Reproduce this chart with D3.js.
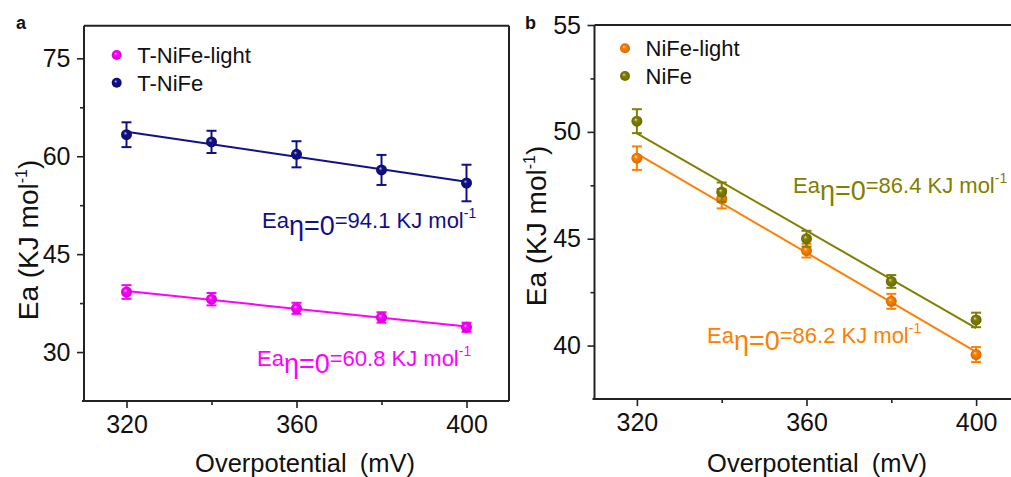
<!DOCTYPE html>
<html>
<head>
<meta charset="utf-8">
<script src="https://cdn.jsdelivr.net/npm/d3@7/dist/d3.min.js"></script>
<style>
  html, body { margin: 0; padding: 0; background: #fff; }
  svg { display: block; font-family: Arial, "Liberation Sans", sans-serif; }
</style>
</head>
<body>
<svg id="chart" width="1011" height="477"></svg>
<script>
// Overpotential (mV) at which activation energies were measured
const overpotential = [320, 340, 360, 380, 400];

// Panel a: T-NiFe samples
const tNiFeLight = [39.2, 38.1, 36.7, 35.3, 33.8];
const tNiFeLightErr = [1.05, 0.95, 0.85, 0.8, 0.7];
const tNiFe = [63.3, 62.2, 60.3, 57.9, 55.9];
const tNiFeErr = [1.9, 1.7, 2.0, 2.3, 2.8];

// Panel b: NiFe samples
const niFeLight = [48.77, 46.87, 44.44, 42.07, 39.58];
const niFeLightErr = [0.55, 0.45, 0.32, 0.35, 0.35];
const niFe = [50.5, 47.18, 45.0, 43.0, 41.2];
const niFeErr = [0.56, 0.45, 0.37, 0.3, 0.34];

// Extrapolated activation energies at zero overpotential (KJ mol-1)
const eaZeroA = ["60.8", "94.1"];
const eaZeroB = ["86.2", "86.4"];

// Axis ticks
const xTicks = [320, 360, 400];
const xMinorTicks = [340, 380];
const yTicksA = [30, 45, 60, 75];
const yMinorA = [37.5, 52.5, 67.5];
const yTicksB = [40, 45, 50, 55];
const yMinorB = [42.5, 47.5, 52.5];

const svg = d3.select("#chart");
const defs = svg.append("defs");

function sphere(id, color) {
  const g = defs.append("radialGradient").attr("id", id)
    .attr("cx", "50%").attr("cy", "50%").attr("r", "55%")
    .attr("fx", "38%").attr("fy", "35%");
  g.append("stop").attr("offset", "0%").attr("stop-color", d3.interpolateRgb(color, "#fff")(0.75));
  g.append("stop").attr("offset", "30%").attr("stop-color", color);
  g.append("stop").attr("offset", "100%").attr("stop-color", d3.color(color).darker(0.6));
  return `url(#${id})`;
}

const colors = {
  tNiFeLight: "#ff00ff",
  tNiFe: "#10108a",
  niFeLight: "#ff8000",
  niFe: "#808000"
};

// Least-squares line through a series
function fit(xs, ys) {
  const mx = d3.mean(xs), my = d3.mean(ys);
  const s = d3.sum(xs, (x, i) => (x - mx) * (ys[i] - my)) / d3.sum(xs, x => (x - mx) ** 2);
  return x => my + s * (x - mx);
}

function panel(opts) {
  const { x, y, yTicks, yMinor, series, label, labelPos, legendPos, yTitleX, yTitleY, xTitleX, drawRight } = opts;
  const g = svg.append("g");
  const [x0, x1] = x.range();
  const [yb, yt] = y.range();

  // frame
  g.append("line").attr("x1", x0).attr("x2", x1).attr("y1", yt).attr("y2", yt)
    .attr("stroke", "#222").attr("stroke-width", 2);
  if (drawRight) {
    g.append("line").attr("x1", x1).attr("x2", x1).attr("y1", yt).attr("y2", yb)
      .attr("stroke", "#222").attr("stroke-width", 2);
  }

  // axes
  const ax = g.append("g").attr("transform", `translate(0,${yb})`)
    .call(d3.axisBottom(x).tickValues(xTicks).tickSize(7).tickPadding(7).tickFormat(d3.format("d")));
  g.append("g").attr("transform", `translate(0,${yb})`)
    .call(d3.axisBottom(x).tickValues(xMinorTicks).tickSize(4).tickFormat(""))
    .select(".domain").remove();
  const ay = g.append("g").attr("transform", `translate(${x0},0)`)
    .call(d3.axisLeft(y).tickValues(yTicks).tickSize(7).tickPadding(6.5).tickFormat(d3.format("d")));
  g.append("g").attr("transform", `translate(${x0},0)`)
    .call(d3.axisLeft(y).tickValues(yMinor).tickSize(4).tickFormat(""))
    .select(".domain").remove();
  g.selectAll(".domain").attr("stroke", "#222").attr("stroke-width", 2);
  g.selectAll(".tick line").attr("stroke", "#222").attr("stroke-width", 1.6);
  g.selectAll(".tick text").attr("font-size", 25).attr("font-family", "Arial, 'Liberation Sans', sans-serif").attr("fill", "#111");
  ax.select(".domain").attr("d", `M${x0 - 2},0H${x1}`);
  ay.select(".domain").attr("d", `M0,${yt}V${yb}`);

  // axis titles
  const xt = g.append("text").attr("x", xTitleX).attr("y", 472)
    .attr("text-anchor", "middle").attr("font-size", 25.5).attr("fill", "#111");
  xt.append("tspan").text("Overpotential");
  xt.append("tspan").attr("dx", 13).text("(mV)");

  const ytt = g.append("text").attr("transform", `translate(${yTitleX},${yTitleY}) rotate(-90)`)
    .attr("text-anchor", "middle").attr("font-size", 28).attr("fill", "#111");
  ytt.append("tspan").text("Ea (KJ mol");
  ytt.append("tspan").attr("font-size", 16).attr("dy", -11).text("-1");
  ytt.append("tspan").attr("dy", 11).text(")");

  // panel letter
  g.append("text").attr("x", labelPos[0]).attr("y", labelPos[1])
    .attr("font-size", 18).attr("font-weight", "bold").attr("fill", "#111").text(label);

  series.forEach((s, si) => {
    const fill = sphere(`grad-${s.key}`, s.color);
    const f = fit(overpotential, s.values);
    g.append("line")
      .attr("x1", x(overpotential[0])).attr("y1", y(f(overpotential[0])))
      .attr("x2", x(overpotential[overpotential.length - 1])).attr("y2", y(f(overpotential[overpotential.length - 1])))
      .attr("stroke", s.color).attr("stroke-width", 2);

    const pts = g.append("g");
    overpotential.forEach((xv, i) => {
      const cx = x(xv);
      const top = y(s.values[i] + s.err[i]);
      const bot = y(s.values[i] - s.err[i]);
      pts.append("line").attr("x1", cx).attr("x2", cx).attr("y1", top).attr("y2", bot)
        .attr("stroke", s.color).attr("stroke-width", 2);
      [top, bot].forEach(yy => pts.append("line")
        .attr("x1", cx - 5).attr("x2", cx + 5).attr("y1", yy).attr("y2", yy)
        .attr("stroke", s.color).attr("stroke-width", 2));
      pts.append("circle").attr("cx", cx).attr("cy", y(s.values[i])).attr("r", 5.5)
        .attr("fill", fill);
    });

    // legend entry
    const ly = legendPos[1] + si * 27.7;
    g.append("circle").attr("cx", legendPos[0]).attr("cy", ly).attr("r", 5).attr("fill", fill);
    g.append("text").attr("x", legendPos[0] + 20.5).attr("y", ly + 8)
      .attr("font-size", 22).attr("fill", "#111").text(s.name);

    // zero-overpotential annotation
    const t = g.append("text").attr("x", s.note[0]).attr("y", s.note[1])
      .attr("fill", s.color).attr("font-size", 22);
    t.append("tspan").text("Ea");
    t.append("tspan").attr("font-size", 27).attr("dy", 7).text("\u03b7=0");
    t.append("tspan").attr("dy", -7).text(`=${s.ea} KJ mol`);
    t.append("tspan").attr("font-size", 14).attr("dy", -10).text("-1");
  });
}

// Panel a
panel({
  x: d3.scaleLinear().domain([310, 410]).range([84, 509]),
  y: d3.scaleLinear().domain([22.5, 80]).range([401, 25.7]),
  yTicks: yTicksA, yMinor: yMinorA,
  label: "a", labelPos: [16, 29],
  legendPos: [116.7, 55],
  yTitleX: 38, yTitleY: 240,
  xTitleX: 305,
  drawRight: true,
  series: [
    { key: "tnfl", name: "T-NiFe-light", values: tNiFeLight, err: tNiFeLightErr, color: colors.tNiFeLight, ea: eaZeroA[0], note: [257, 366] },
    { key: "tnf", name: "T-NiFe", values: tNiFe, err: tNiFeErr, color: colors.tNiFe, ea: eaZeroA[1], note: [262, 228] }
  ]
});

// Panel b
panel({
  x: d3.scaleLinear().domain([310, 410]).range([594.5, 1018.5]),
  y: d3.scaleLinear().domain([37.5, 55]).range([399, 25]),
  yTicks: yTicksB, yMinor: yMinorB,
  label: "b", labelPos: [525, 29],
  legendPos: [625, 48.3],
  yTitleX: 546, yTitleY: 226,
  xTitleX: 817,
  drawRight: true,
  series: [
    { key: "nfl", name: "NiFe-light", values: niFeLight, err: niFeLightErr, color: colors.niFeLight, ea: eaZeroB[0], note: [707, 343] },
    { key: "nf", name: "NiFe", values: niFe, err: niFeErr, color: colors.niFe, ea: eaZeroB[1], note: [793, 193] }
  ]
});
</script>
</body>
</html>
